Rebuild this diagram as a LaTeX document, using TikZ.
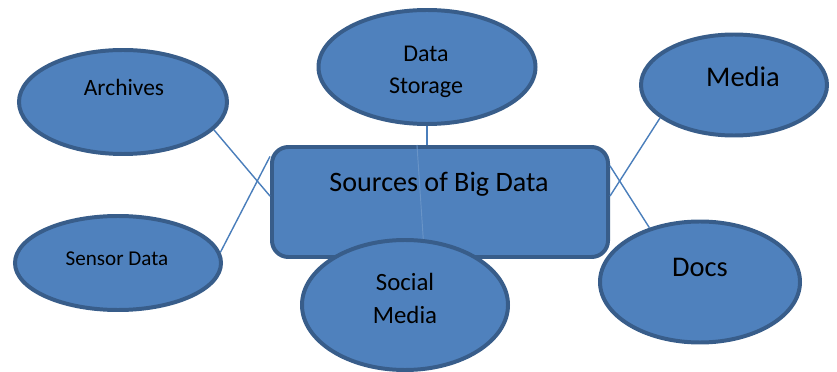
\documentclass[tikz,border=0pt]{standalone}
\usepackage{fontspec}
\setmainfont{Carlito}
\definecolor{shapefill}{HTML}{4F81BD}
\definecolor{shapeline}{HTML}{385D8A}
\definecolor{linkblue}{HTML}{4A7EBB}
\tikzset{
  src/.style={ellipse, draw=shapeline, fill=shapefill, line width=3.4pt, inner sep=0pt},
  hub/.style={rectangle, rounded corners=14pt, draw=shapeline, fill=shapefill, line width=3.4pt, inner sep=0pt},
  lbl/.style={anchor=base, inner sep=0pt, text=black},
  link/.style={draw=linkblue, line width=1.2pt}
}
\usetikzlibrary{shapes.geometric}
\begin{document}
\begin{tikzpicture}[x=0.03cm, y=-0.03cm]
    \useasboundingbox (0,0) rectangle (837,372);

    % centre box first, everything else sits on top of it
    \node[hub, minimum width=10.08cm, minimum height=3.3cm] (box) at (440,202) {};

    % faint line through the box, hidden under the bottom ellipse
    \coordinate (smTop) at (424,250);
    \draw[draw=shapefill!85!white, line width=0.8pt] (box.112) -- (smTop);

    \node[src, minimum width=6.24cm, minimum height=3.12cm] (arch) at (123,102) {};
    \node[src, minimum width=6.51cm, minimum height=3.42cm] (ds) at (427,67) {};
    \node[src, minimum width=5.58cm, minimum height=3.03cm] (media) at (734,85) {};
    \node[src, minimum width=6.18cm, minimum height=2.82cm] (sensor) at (118,263) {};
    \node[src, minimum width=6.18cm, minimum height=3.9cm] (social) at (405,305) {};
    \node[src, minimum width=6.0cm, minimum height=3.63cm] (docs) at (700,282) {};

    \draw[link] (arch.-17) -- (box.178);
    \draw[link] (sensor.6) -- (box.165);
    \draw[link] (media.204) -- (box.2);
    \draw[link] (docs.133) -- (box.12);
    \draw[link] (ds.south) -- (ds.south |- box.north);

    \node[lbl, font=\fontsize{24}{29}\selectfont] (hubT) at (439,192) {Sources of Big Data};
    \node[lbl, font=\fontsize{20}{24}\selectfont] (archT) at (124,96) {Archives};
    \node[lbl, font=\fontsize{20.5}{24}\selectfont] (dsT1) at (426,62) {Data};
    \node[lbl, font=\fontsize{20.5}{24}\selectfont] (dsT2) at (426,94) {Storage};
    \node[lbl, font=\fontsize{24.3}{29}\selectfont] (mediaT) at (743,87) {Media};
    \node[lbl, font=\fontsize{18}{22}\selectfont] (sensorT) at (117,265) {Sensor Data};
    \node[lbl, font=\fontsize{21.2}{25}\selectfont] (socialT1) at (405,290) {Social};
    \node[lbl, font=\fontsize{21.2}{25}\selectfont] (socialT2) at (405,323) {Media};
    \node[lbl, font=\fontsize{24.3}{29}\selectfont] (docsT) at (700,276) {Docs};

\end{tikzpicture}
\end{document}
